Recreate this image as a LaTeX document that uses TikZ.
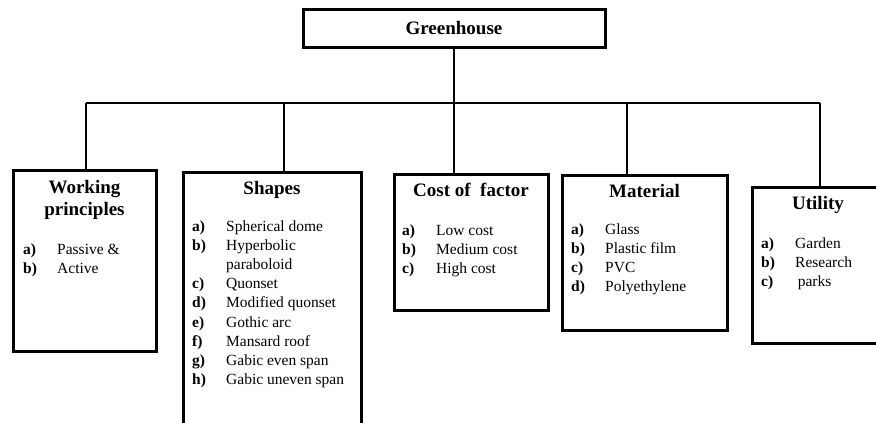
\documentclass[tikz,border=0pt]{standalone}
\usepackage{fontspec}
\setmainfont{Liberation Serif}
\usepackage{array}
\usetikzlibrary{positioning}
\tikzset{
  box/.style={draw, line width=3pt, inner sep=0pt, outer sep=0pt},
  boxtitle/.style={font=\fontsize{19}{22}\selectfont\bfseries, align=center, inner sep=0pt},
  itemlist/.style={font=\fontsize{15.5}{19.2}\selectfont, anchor=base west, inner sep=0pt},
  link/.style={line width=2.8pt},
}
\newcolumntype{L}{>{\bfseries}p{34pt}@{}l}

\begin{document}
\begin{tikzpicture}[x=1pt, y=-1pt]
    \useasboundingbox (0,0) rectangle (876,423);
    \clip (0,0) rectangle (876,423);

    % top box
    \node[box, boxtitle, minimum width=302pt, minimum height=38pt] (green) at (454,28) {Greenhouse};

    % the five boxes (shapes and utility run past the picture edge)
    \node[box, minimum width=143pt, minimum height=181pt] (work) at (84.5,260.5) {};
    \node[box, minimum width=178pt, minimum height=290pt] (shape) at (272,317) {};
    \node[box, minimum width=154pt, minimum height=136pt] (cost) at (471,242) {};
    \node[box, minimum width=165pt, minimum height=155pt] (mat) at (644.5,252.5) {};
    \node[box, minimum width=132pt, minimum height=156pt] (util) at (818,265) {};

    % connectors
    \coordinate (bw) at (86,103);
    \coordinate (bs) at (284,103);
    \coordinate (bm) at (627,103);
    \coordinate (bu) at (820,103);
    \draw[link] (green.south) -- (green.south |- cost.north);
    \draw[link] (bw) -- (bu);
    \foreach \b/\t in {bw/work, bs/shape, bm/mat, bu/util} { \draw[link] (\b) -- (\b |- \t.north); }

    % titles
    \node[boxtitle, anchor=north] (workT) at ([yshift=-10pt]work.north) {Working\\principles};
    \node[boxtitle, anchor=north] (shapeT) at ([yshift=-9pt]shape.north) {Shapes};
    \node[boxtitle, anchor=north] (costT) at ([yshift=-9pt]cost.north) {Cost of\ \ factor};
    \node[boxtitle, anchor=north] (matT) at ([yshift=-9pt]mat.north) {Material};
    \node[boxtitle, anchor=north] (utilT) at ([yshift=-9pt]util.north) {Utility};

    % lists
    \node[itemlist] (workL) at ([xshift=10pt, yshift=-84pt]work.north west)
      {\begin{tabular}[t]{@{}L@{}} a) & Passive \&\\ b) & Active \end{tabular}};
    \node[itemlist] (shapeL) at ([xshift=9pt, yshift=-59pt]shape.north west)
      {\begin{tabular}[t]{@{}L@{}}
        a) & Spherical dome\\ b) & Hyperbolic\\ & paraboloid\\ c) & Quonset\\
        d) & Modified quonset\\ e) & Gothic arc\\ f) & Mansard roof\\
        g) & Gabic even span\\ h) & Gabic uneven span
      \end{tabular}};
    \node[itemlist] (costL) at ([xshift=8pt, yshift=-61pt]cost.north west)
      {\begin{tabular}[t]{@{}L@{}} a) & Low cost\\ b) & Medium cost\\ c) & High cost \end{tabular}};
    \node[itemlist] (matL) at ([xshift=9pt, yshift=-59pt]mat.north west)
      {\begin{tabular}[t]{@{}L@{}} a) & Glass\\ b) & Plastic film\\ c) & PVC\\ d) & Polyethylene \end{tabular}};
    \node[itemlist] (utilL) at ([xshift=9pt, yshift=-61pt]util.north west)
      {\begin{tabular}[t]{@{}L@{}} a) & Garden\\ b) & Research\\ c) & \,parks \end{tabular}};
\end{tikzpicture}
\end{document}
